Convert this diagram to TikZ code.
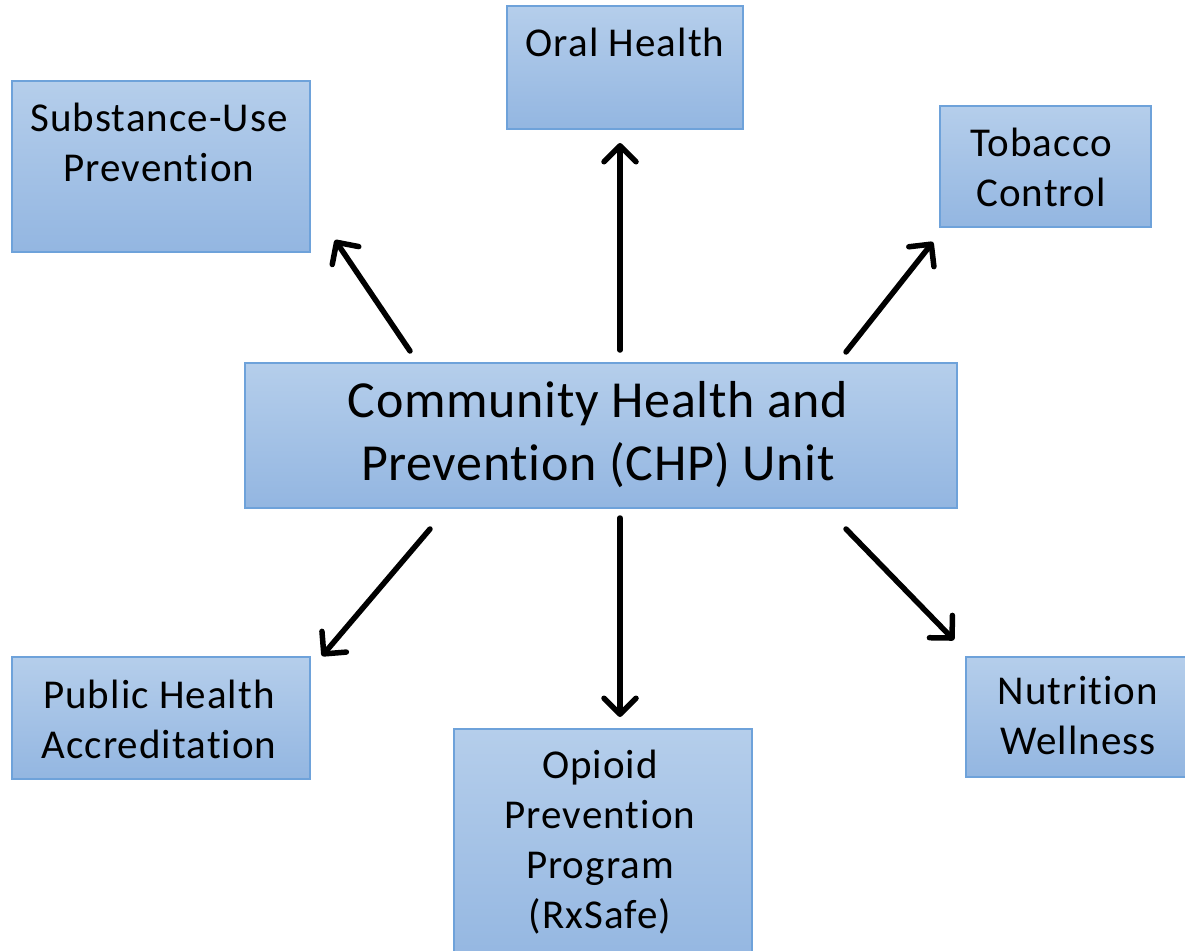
\documentclass[tikz,border=0pt]{standalone}
\usepackage{fontspec}
\setmainfont{Carlito}[Ligatures=NoCommon]
\newfontfamily\smallf{Carlito}[Ligatures=NoCommon,LetterSpace=2.6]
\newfontfamily\bigf{Carlito}[Ligatures=NoCommon,LetterSpace=1.3]
\usetikzlibrary{arrows.meta}
\definecolor{boxtop}{HTML}{B5CEEB}
\definecolor{boxbot}{HTML}{93B6E1}
\definecolor{boxline}{HTML}{6EA2DA}
\begin{document}
\begin{tikzpicture}[x=1pt,y=-1pt,
  box/.style={draw=boxline, line width=1.3pt, top color=boxtop, bottom color=boxbot, inner sep=0pt, rectangle},
  lbl/.style={align=center, font=\smallf\fontsize{41}{50}\selectfont, inner sep=0pt},
  big/.style={align=center, font=\bigf\fontsize{52}{63}\selectfont, inner sep=0pt},
  arr/.style={line width=5.5pt, line cap=round, -{Straight Barb[length=16pt,width=32pt,line join=round,line cap=round]}}]
\useasboundingbox (0,0) rectangle (1185,950);
% boxes
\node[box, minimum width=236pt, minimum height=123pt] (oral) at (625,67.5) {};
\node[box, minimum width=298pt, minimum height=171pt] (subst) at (161,166.5) {};
\node[box, minimum width=211pt, minimum height=121pt] (tob) at (1045.5,166.5) {};
\node[box, minimum width=712pt, minimum height=145pt] (chp) at (601,435.5) {};
\node[box, minimum width=298pt, minimum height=122pt] (pha) at (161,718) {};
\node[box, minimum width=298pt, minimum height=240pt] (opi) at (603,849) {};
\node[box, minimum width=230pt, minimum height=120pt] (nut) at (1081,717) {};
% texts
\node[lbl] (oralT) at (625,42) {Oral Health};
\node[lbl] (substT) at (159,142) {Substance-Use\\Prevention};
\node[lbl] (tobT) at (1041,167) {Tobacco\\Control};
\node[big] (chpT) at (598,435) {Community Health and\\Prevention (CHP) Unit};
\node[lbl] (phaT) at (159,719) {Public Health\\Accreditation};
\node[lbl] (opiT) at (600,842) {Opioid\\Prevention\\Program\\(RxSafe)};
\node[lbl] (nutT) at (1078,716) {Nutrition\\Wellness};
% arrow ends
\coordinate (a1s) at (620,350); \coordinate (a1e) at (620,143);
\coordinate (a2s) at (410,351); \coordinate (a2e) at (335,240);
\coordinate (a3s) at (846,352); \coordinate (a3e) at (933,242);
\coordinate (a4s) at (620,518); \coordinate (a4e) at (620,717);
\coordinate (a5s) at (430,529); \coordinate (a5e) at (322,656);
\coordinate (a6s) at (846,529); \coordinate (a6e) at (954,640);
\draw[arr] (a1s) -- (a1e);
\draw[arr] (a2s) -- (a2e);
\draw[arr] (a3s) -- (a3e);
\draw[arr] (a4s) -- (a4e);
\draw[arr] (a5s) -- (a5e);
\draw[arr] (a6s) -- (a6e);
\end{tikzpicture}
\end{document}
